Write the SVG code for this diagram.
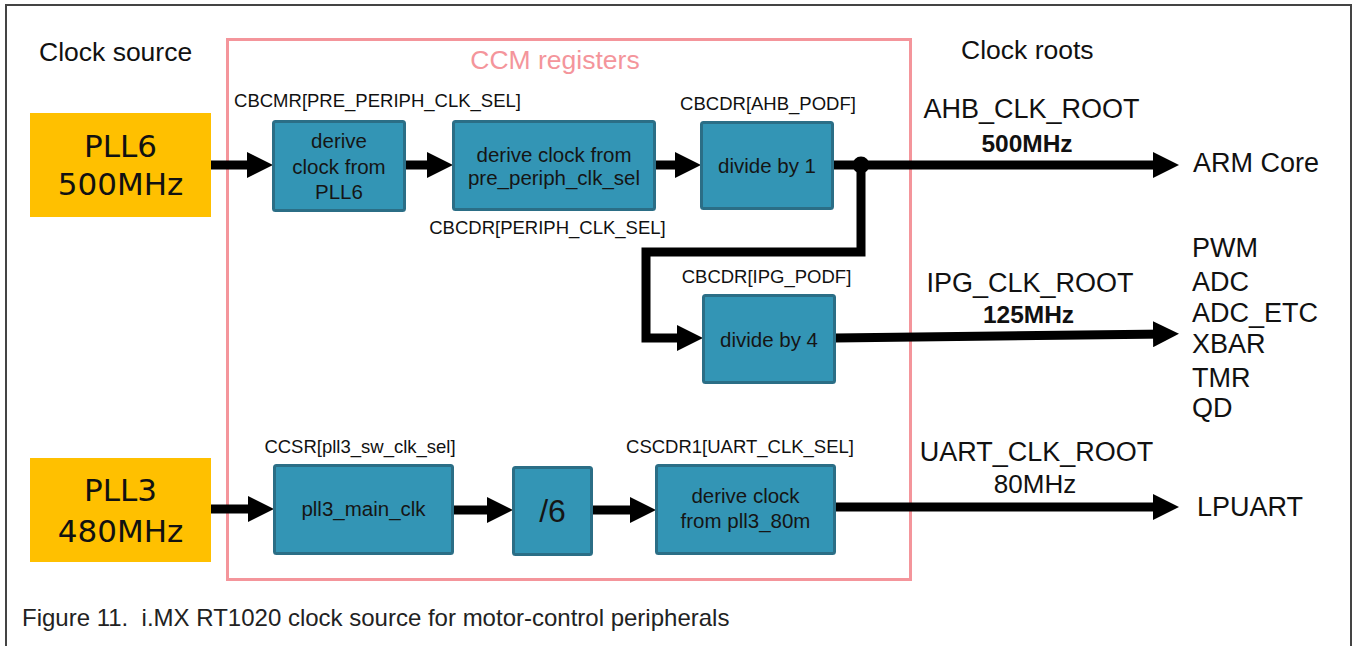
<svg xmlns="http://www.w3.org/2000/svg" width="1354" height="646" viewBox="0 0 1354 646">
<style>
  text { font-family: "Liberation Sans", Arial, sans-serif; fill: #111; }
  .big { font-size: 27px; }
  .reg { font-size: 18.5px; text-anchor: middle; }
  .box { fill: #3395B5; stroke: #2B6E86; stroke-width: 3; }
  .boxt { font-size: 20.5px; text-anchor: middle; fill: #151515; }
  .pll { fill: #FFC000; }
  .pllt { font-family: "DejaVu Sans", sans-serif; font-size: 31px; text-anchor: middle; }
  .mhz { font-size: 24.5px; font-weight: bold; text-anchor: middle; }
  .wire { fill: none; stroke: #000; stroke-width: 9; }
</style>
<defs>
  <marker id="ah" markerUnits="userSpaceOnUse" markerWidth="26" markerHeight="26" viewBox="0 0 26 26" refX="14" refY="13" orient="auto">
    <path d="M0,0 L26,13 L0,26 Z" fill="#000"/>
  </marker>
</defs>
<rect x="0" y="0" width="1354" height="646" fill="#fff"/>
<rect x="6" y="5" width="1345" height="680" fill="none" stroke="#444" stroke-width="2"/>
<g id="ccm">
  <rect x="227.5" y="39.5" width="683" height="540" fill="none" stroke="#F4959B" stroke-width="3"/>
  <text x="555" y="69" font-size="26.5" text-anchor="middle" style="fill:#F4959B">CCM registers</text>
</g>
<g id="headers">
  <text x="39" y="61" font-size="26.5">Clock source</text>
  <text x="961" y="59" font-size="26.5">Clock roots</text>
</g>
<g id="connectors">
  <line class="wire" x1="211" y1="165" x2="261" y2="165" marker-end="url(#ah)"/>
  <line class="wire" x1="405" y1="165" x2="441" y2="165" marker-end="url(#ah)"/>
  <line class="wire" x1="655" y1="165" x2="689" y2="165" marker-end="url(#ah)"/>
  <line class="wire" x1="833" y1="165" x2="1167" y2="165" marker-end="url(#ah)"/>
  <path class="wire" d="M861,165 V252 H646 V338 H691" marker-end="url(#ah)"/>
  <circle cx="861" cy="165" r="8.5" fill="#000"/>
  <line class="wire" x1="835" y1="338" x2="1167" y2="334" marker-end="url(#ah)"/>
  <line class="wire" x1="211" y1="509" x2="262" y2="509" marker-end="url(#ah)"/>
  <line class="wire" x1="453" y1="510" x2="501" y2="510" marker-end="url(#ah)"/>
  <line class="wire" x1="592" y1="510" x2="644" y2="510" marker-end="url(#ah)"/>
  <line class="wire" x1="835" y1="507" x2="1167" y2="507" marker-end="url(#ah)"/>
</g>
<g id="pll6">
  <rect class="pll" x="30" y="113" width="181" height="104"/>
  <text class="pllt" x="120.5" y="157">PLL6</text>
  <text class="pllt" x="120.5" y="195">500MHz</text>
</g>
<g id="pll3">
  <rect class="pll" x="30" y="458" width="181" height="104"/>
  <text class="pllt" x="120.5" y="501">PLL3</text>
  <text class="pllt" x="120.5" y="542">480MHz</text>
</g>
<g id="derive-pll6">
  <text class="reg" x="377.5" y="107">CBCMR[PRE_PERIPH_CLK_SEL]</text>
  <rect class="box" x="273.5" y="121.5" width="131" height="89" rx="2"/>
  <text class="boxt" x="339" y="148">derive</text>
  <text class="boxt" x="339" y="174">clock from</text>
  <text class="boxt" x="339" y="199">PLL6</text>
</g>
<g id="derive-pre">
  <rect class="box" x="453.5" y="121.5" width="201" height="88" rx="2"/>
  <text class="boxt" x="554" y="162">derive clock from</text>
  <text class="boxt" x="554" y="185">pre_periph_clk_sel</text>
  <text class="reg" x="547.5" y="234">CBCDR[PERIPH_CLK_SEL]</text>
</g>
<g id="div1">
  <text class="reg" x="768" y="110">CBCDR[AHB_PODF]</text>
  <rect class="box" x="701.5" y="122.5" width="131" height="86" rx="2"/>
  <text class="boxt" x="767" y="173">divide by 1</text>
</g>
<g id="div4">
  <text class="reg" x="766.5" y="283">CBCDR[IPG_PODF]</text>
  <rect class="box" x="703.5" y="295.5" width="131" height="87" rx="2"/>
  <text class="boxt" x="769" y="347">divide by 4</text>
</g>
<g id="pll3main">
  <text class="reg" x="360" y="453">CCSR[pll3_sw_clk_sel]</text>
  <rect class="box" x="274.5" y="465.5" width="178" height="88" rx="2"/>
  <text class="boxt" x="363.5" y="516">pll3_main_clk</text>
</g>
<g id="div6">
  <rect class="box" x="513.5" y="467.5" width="78" height="87" rx="2"/>
  <text x="552.5" y="522" font-size="32" text-anchor="middle" style="fill:#151515">/6</text>
</g>
<g id="derive-80m">
  <text class="reg" x="740" y="453">CSCDR1[UART_CLK_SEL]</text>
  <rect class="box" x="656.5" y="465.5" width="178" height="88" rx="2"/>
  <text class="boxt" x="745.5" y="503">derive clock</text>
  <text class="boxt" x="745.5" y="528">from pll3_80m</text>
</g>
<g id="ahb-root">
  <text class="big" x="1031.5" y="118" text-anchor="middle">AHB_CLK_ROOT</text>
  <text class="mhz" x="1027" y="152">500MHz</text>
</g>
<g id="ipg-root">
  <text class="big" x="1030" y="292" text-anchor="middle">IPG_CLK_ROOT</text>
  <text class="mhz" x="1028.5" y="323">125MHz</text>
</g>
<g id="uart-root">
  <text class="big" x="1036.5" y="461" text-anchor="middle">UART_CLK_ROOT</text>
  <text x="1035" y="493" font-size="26" text-anchor="middle">80MHz</text>
</g>
<g id="arm">
  <text class="big" x="1193" y="172">ARM Core</text>
</g>
<g id="periph">
  <text class="big" x="1192" y="257">PWM</text>
  <text class="big" x="1192" y="291">ADC</text>
  <text class="big" x="1192" y="322">ADC_ETC</text>
  <text class="big" x="1192" y="353">XBAR</text>
  <text class="big" x="1192" y="387">TMR</text>
  <text class="big" x="1192" y="417">QD</text>
</g>
<g id="lpuart">
  <text class="big" x="1197" y="516">LPUART</text>
</g>
<text x="22" y="626" font-size="24" xml:space="preserve" style="fill:#222">Figure 11.  i.MX RT1020 clock source for motor-control peripherals</text>
</svg>
